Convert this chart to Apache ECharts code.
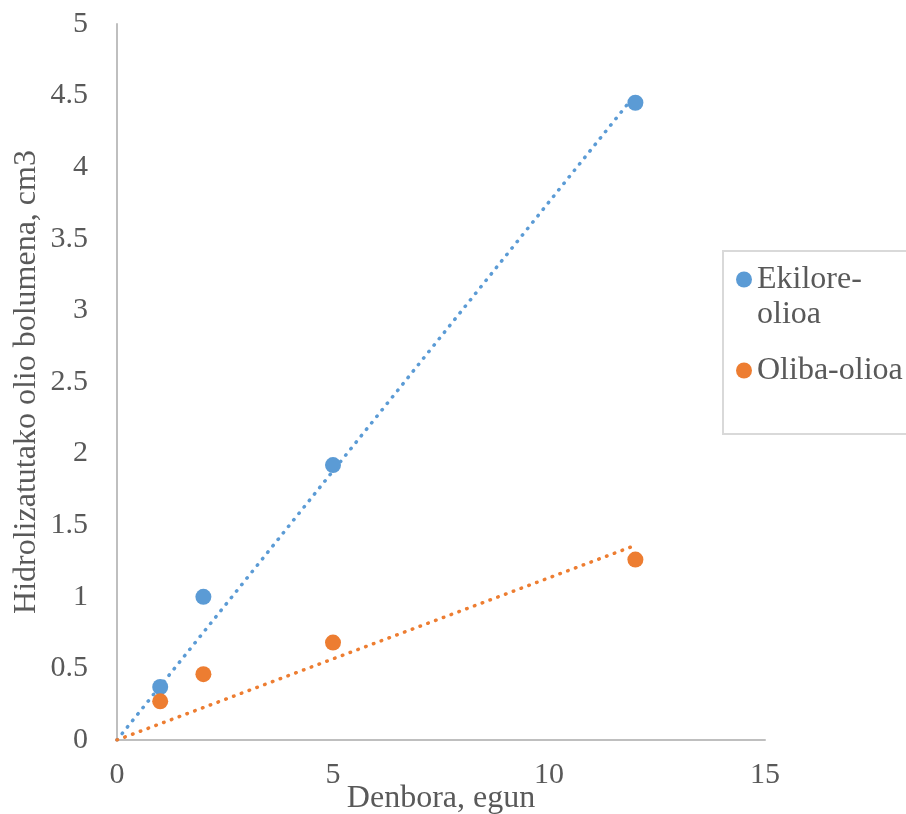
<!DOCTYPE html>
<html>
<head>
<meta charset="utf-8">
<script src="https://cdn.jsdelivr.net/npm/echarts@6/dist/echarts.min.js"></script>
<style>
  html, body { margin: 0; padding: 0; background: #fff; }
  #chart { width: 906px; height: 814px; }
</style>
</head>
<body>
<div id="chart"></div>
<script>
// Measurement days
const days = [1, 2, 5, 12];
// Hydrolysed oil volume (cm3) per oil
const ekiloreValues = [0.37, 1.0, 1.92, 4.45];
const olibaValues = [0.27, 0.46, 0.68, 1.26];
const seriesNames = ['Ekilore-olioa', 'Oliba-olioa'];
const colors = ['#5B9BD5', '#ED7D31'];

// Linear trend forced through the origin: slope = Σxy / Σx²
function originSlope(xs, ys) {
  let sxy = 0, sxx = 0;
  xs.forEach((x, i) => { sxy += x * ys[i]; sxx += x * x; });
  return sxy / sxx;
}
function trendPoints(xs, ys) {
  const k = originSlope(xs, ys);
  const xmax = Math.max(...xs);
  return [[0, 0], [xmax, k * xmax]];
}
const pairs = ys => days.map((d, i) => [d, ys[i]]);

const textColor = '#595959';
const font = '"Liberation Serif", "Times New Roman", serif';
const dotted = { width: 3.5, type: [0.5, 7.8], cap: 'round' };

// Legend label: wrapped name, with a blank leading line so the marker
// sits level with the first text line
function legendLabel(name) {
  return name === 'Ekilore-olioa' ? ' \nEkilore-\nolioa' : name;
}

const chart = echarts.init(document.getElementById('chart'), null, { renderer: 'canvas' });
chart.setOption({
  animation: false,
  backgroundColor: '#fff',
  textStyle: { fontFamily: font },
  grid: { left: 117, right: 141, top: 24, bottom: 74, containLabel: false, outerBoundsMode: 'none' },
  xAxis: {
    type: 'value', min: 0, max: 15, interval: 5,
    name: 'Denbora, egun', nameLocation: 'middle', nameGap: 43, nameMoveOverlap: false,
    nameTextStyle: { color: textColor, fontSize: 32, fontFamily: font },
    axisLine: { show: true, lineStyle: { color: '#BFBFBF', width: 2 } },
    axisTick: { show: false },
    splitLine: { show: false },
    axisLabel: { color: textColor, fontSize: 30, fontFamily: font, margin: 20 }
  },
  yAxis: {
    type: 'value', min: 0, max: 5, interval: 0.5,
    name: 'Hidrolizatutako olio bolumena, cm3', nameLocation: 'middle', nameGap: 74, nameMoveOverlap: false,
    nameTextStyle: { color: textColor, fontSize: 32, fontFamily: font },
    axisLine: { show: true, lineStyle: { color: '#BFBFBF', width: 2 } },
    axisTick: { show: false },
    splitLine: { show: false },
    axisLabel: { color: textColor, fontSize: 30, fontFamily: font, margin: 29 }
  },
  legend: {
    data: seriesNames,
    orient: 'vertical',
    left: 731, top: 222, padding: 5,
    icon: 'circle', itemWidth: 16, itemHeight: 16, itemGap: 21,
    formatter: legendLabel,
    textStyle: { color: textColor, fontSize: 32, fontFamily: font, lineHeight: 35 }
  },
  graphic: [{
    type: 'rect', left: 722, top: 250, z: -1,
    shape: { width: 200, height: 183 },
    style: { fill: '#fff', stroke: '#D9D9D9', lineWidth: 2 }
  }],
  series: [
    {
      name: 'Ekilore-olioa trend', type: 'line', data: trendPoints(days, ekiloreValues),
      showSymbol: false, silent: true, z: 1,
      lineStyle: Object.assign({ color: colors[0] }, dotted)
    },
    {
      name: 'Oliba-olioa trend', type: 'line', data: trendPoints(days, olibaValues),
      showSymbol: false, silent: true, z: 1,
      lineStyle: Object.assign({ color: colors[1] }, dotted)
    },
    {
      name: seriesNames[0], type: 'scatter', data: pairs(ekiloreValues),
      symbolSize: 16, itemStyle: { color: colors[0], opacity: 1 }, z: 3
    },
    {
      name: seriesNames[1], type: 'scatter', data: pairs(olibaValues),
      symbolSize: 16, itemStyle: { color: colors[1], opacity: 1 }, z: 3
    }
  ]
});
</script>
</body>
</html>
